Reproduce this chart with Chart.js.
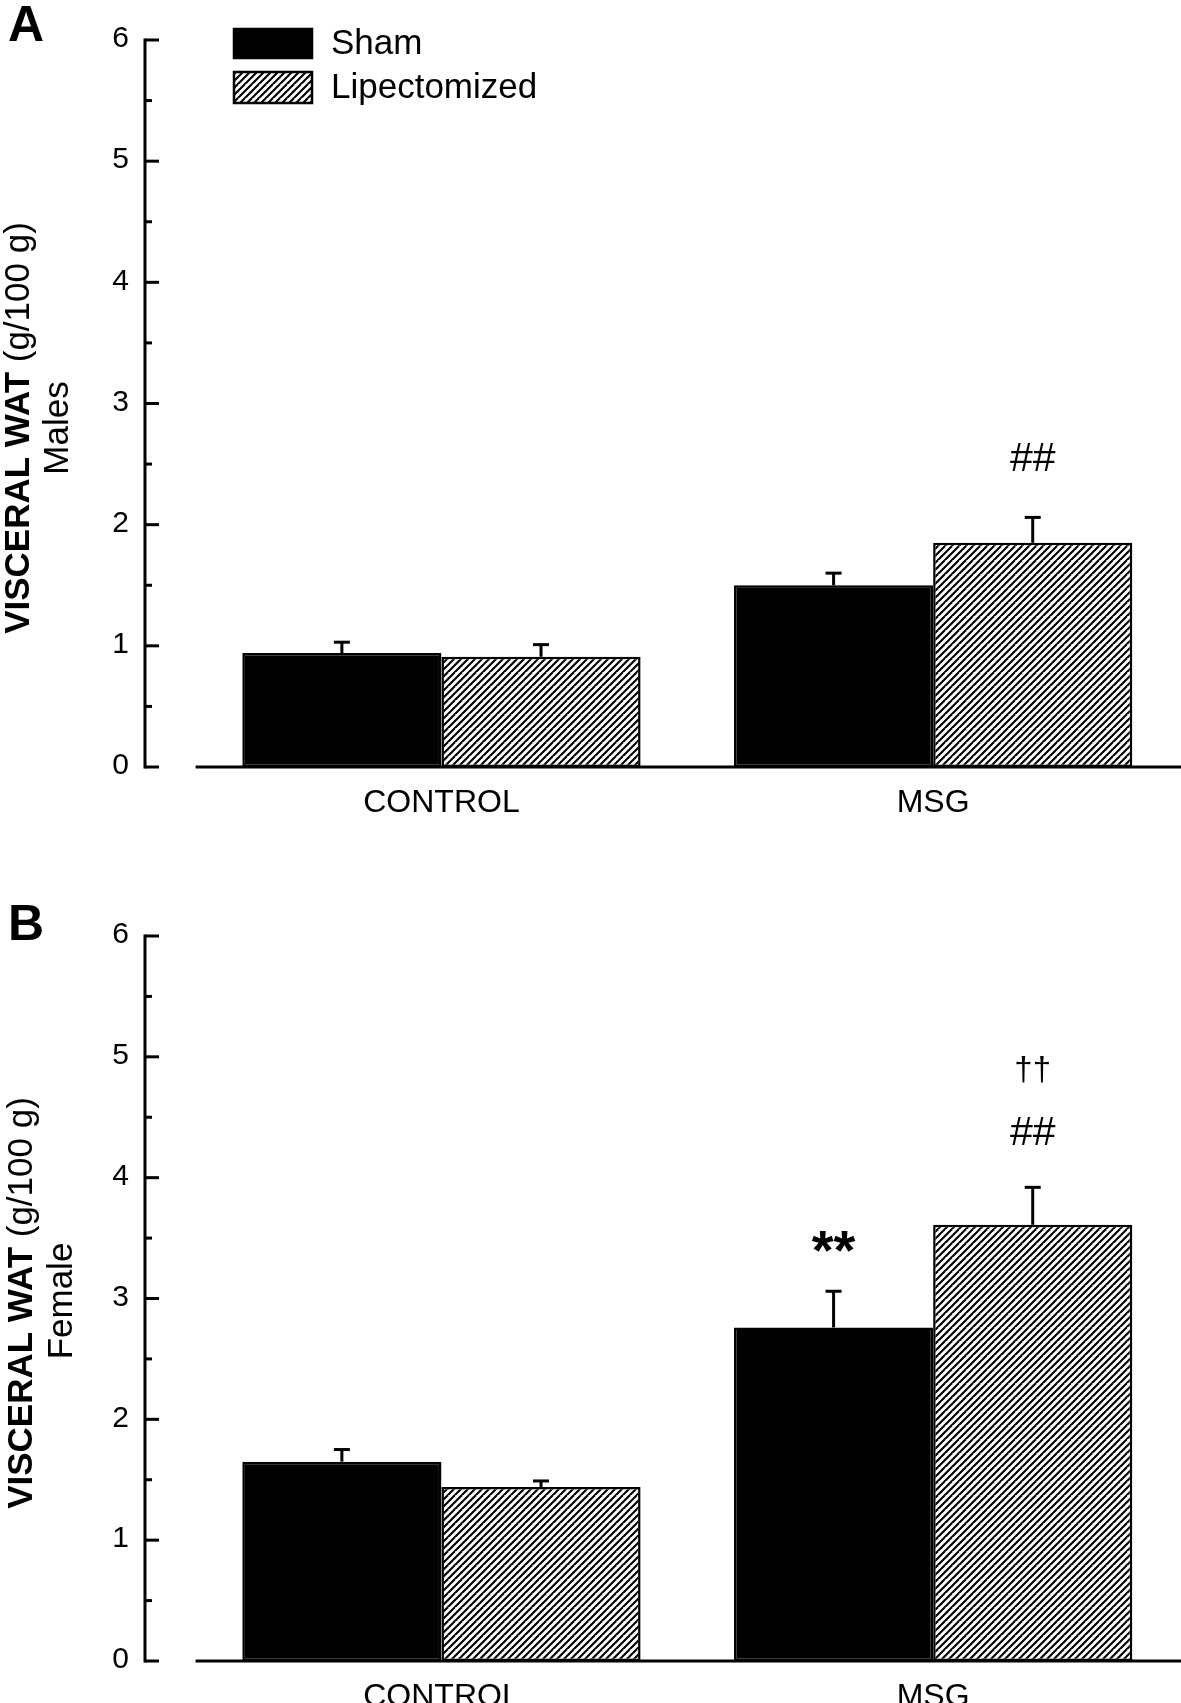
<!DOCTYPE html>
<html><head><meta charset="utf-8">
<script src="https://cdn.jsdelivr.net/npm/chart.js@4.4.1/dist/chart.umd.min.js"></script>
<style>
html,body{margin:0;padding:0;background:#fff;}
#wrap{position:relative;width:1181px;height:1703px;overflow:hidden;background:#fff;}
.panel{position:absolute;left:0;width:1181px;}
canvas{display:block;}
</style></head><body>
<div id="wrap">
<div class="panel" style="top:0;height:851px"><canvas id="cA" width="1181" height="851"></canvas></div>
<div class="panel" style="top:851px;height:852px"><canvas id="cB" width="1181" height="852"></canvas></div>
</div>
<script>
// ---- data ----
const categories = ['CONTROL', 'MSG'];
const seriesNames = ['Sham', 'Lipectomized'];
const yTickLabels = ['0', '1', '2', '3', '4', '5', '6'];
const maleSham = [0.94, 1.50];
const maleShamErr = [0.09, 0.10];
const maleLipo = [0.91, 1.85];
const maleLipoErr = [0.10, 0.21];
const femaleSham = [1.65, 2.76];
const femaleShamErr = [0.10, 0.30];
const femaleLipo = [1.44, 3.61];
const femaleLipoErr = [0.05, 0.31];
const maleMarks = [{ cat: 1, ds: 1, text: '##', at: 2.54 }];
const femaleMarks = [
  { cat: 1, ds: 0, text: '**', at: 3.37 },
  { cat: 1, ds: 1, text: '##', at: 4.36 },
  { cat: 1, ds: 1, text: '\u2020\u2020', at: 4.88 }
];

const FONT = '"Liberation Sans", Arial, Helvetica, sans-serif';

function makeHatch() {
  const s = 14, c = document.createElement('canvas');
  c.width = s; c.height = s;
  const g = c.getContext('2d');
  g.fillStyle = '#fff'; g.fillRect(0, 0, s, s);
  g.strokeStyle = '#000'; g.lineWidth = 2.1;
  for (let k = -s; k <= 2 * s; k += 7) {
    g.beginPath(); g.moveTo(k - s, 2 * s); g.lineTo(k + s, 0); g.stroke();
  }
  return g.createPattern(c, 'repeat');
}

function drawMixed(ctx, parts, cx, cy) {
  let total = 0;
  const w = parts.map(p => { ctx.font = p.font; const m = ctx.measureText(p.text).width; total += m; return m; });
  let x = cx - total / 2;
  parts.forEach((p, i) => { ctx.font = p.font; ctx.fillText(p.text, x, cy); x += w[i]; });
}

function panelPlugin(cfg) {
  return {
    id: 'panel' + cfg.letter,
    afterDatasetsDraw(chart) {
      const ctx = chart.ctx, ys = chart.scales.y, area = chart.chartArea;
      const axisX = 145;
      ctx.save();
      ctx.strokeStyle = '#000'; ctx.fillStyle = '#000'; ctx.lineCap = 'butt';
      // error bars
      chart.data.datasets.forEach((ds, di) => {
        const meta = chart.getDatasetMeta(di);
        meta.data.forEach((bar, j) => {
          const top = ys.getPixelForValue(ds.data[j]);
          const e = ys.getPixelForValue(ds.data[j] + ds.errors[j]);
          ctx.lineWidth = 3;
          ctx.beginPath(); ctx.moveTo(bar.x, top); ctx.lineTo(bar.x, e); ctx.stroke();
          ctx.beginPath(); ctx.moveTo(bar.x - 8, e); ctx.lineTo(bar.x + 8, e); ctx.stroke();
        });
      });
      // x axis line
      const y0 = ys.getPixelForValue(0);
      ctx.lineWidth = 3;
      ctx.beginPath(); ctx.moveTo(area.left, y0); ctx.lineTo(area.right + 2, y0); ctx.stroke();
      // y axis line + ticks + tick labels
      const yTop = ys.getPixelForValue(ys.max);
      ctx.beginPath(); ctx.moveTo(axisX, yTop - 1.5); ctx.lineTo(axisX, y0 + 1.5); ctx.stroke();
      for (let v = ys.min; v <= ys.max; v += 0.5) {
        const py = ys.getPixelForValue(v);
        const major = Math.abs(v - Math.round(v)) < 1e-6;
        ctx.beginPath(); ctx.moveTo(axisX, py); ctx.lineTo(axisX + (major ? 14 : 7), py); ctx.stroke();
      }
      ctx.font = '30px ' + FONT; ctx.textAlign = 'right'; ctx.textBaseline = 'middle';
      yTickLabels.forEach((t, i) => {
        ctx.fillText(t, 129, ys.getPixelForValue(i) - 1);
      });
      // annotations
      cfg.marks.forEach(m => {
        const bar = chart.getDatasetMeta(m.ds).data[m.cat];
        const py = ys.getPixelForValue(m.at);
        if (m.text === '**') ctx.font = 'bold 56px ' + FONT;
        else if (m.text === '##') ctx.font = '41px ' + FONT;
        else ctx.font = '33px ' + FONT;
        ctx.textAlign = 'center'; ctx.textBaseline = 'middle';
        ctx.fillText(m.text, bar.x, py);
      });
      // panel letter
      ctx.textAlign = 'left'; ctx.textBaseline = 'alphabetic';
      ctx.font = 'bold 50px ' + FONT;
      ctx.fillText(cfg.letter, 8, cfg.letterBase);
      // y title
      ctx.save();
      ctx.textBaseline = 'middle'; ctx.textAlign = 'left';
      ctx.translate(cfg.titleX1, cfg.titleY);
      ctx.rotate(-Math.PI / 2);
      drawMixed(ctx, [{ text: 'VISCERAL WAT', font: 'bold 35px ' + FONT }, { text: ' (g/100 g)', font: '35px ' + FONT }], 0, 0);
      ctx.restore();
      ctx.save();
      ctx.textBaseline = 'middle'; ctx.textAlign = 'center';
      ctx.translate(cfg.titleX2, cfg.titleY2);
      ctx.rotate(-Math.PI / 2);
      ctx.font = '35px ' + FONT;
      ctx.fillText(cfg.sub, 0, 0);
      ctx.restore();
      // legend
      if (cfg.legend) {
        const dsets = chart.data.datasets;
        const boxes = [{ y: 29, h: 29 }, { y: 72, h: 31 }];
        dsets.forEach((ds, i) => {
          const b = boxes[i];
          ctx.fillStyle = ds.backgroundColor;
          ctx.fillRect(234, b.y, 78, b.h);
          ctx.lineWidth = 2.5; ctx.strokeStyle = '#000';
          ctx.strokeRect(234, b.y, 78, b.h);
          ctx.fillStyle = '#000';
          ctx.font = '35px ' + FONT; ctx.textAlign = 'left'; ctx.textBaseline = 'middle';
          ctx.fillText(ds.label, 331, b.y + b.h / 2 + 1);
        });
      }
      ctx.restore();
    }
  };
}

function build(id, sham, shamErr, lipo, lipoErr, topPad, xH, cfg) {
  const hatch = makeHatch();
  return new Chart(document.getElementById(id), {
    type: 'bar',
    data: {
      labels: categories,
      datasets: [
        { label: seriesNames[0], data: sham, errors: shamErr, backgroundColor: '#000', borderColor: '#000', borderWidth: 2.5, borderSkipped: false },
        { label: seriesNames[1], data: lipo, errors: lipoErr, backgroundColor: hatch, borderColor: '#000', borderWidth: 2.5, borderSkipped: false }
      ]
    },
    options: {
      responsive: false, animation: false, devicePixelRatio: 1,
      layout: { autoPadding: false, padding: { top: topPad, right: 2, left: 195.6, bottom: 0 } },
      categoryPercentage: 0.81, barPercentage: 1.0,
      plugins: { legend: { display: false }, tooltip: { enabled: false } },
      scales: {
        x: {
          offset: true,
          grid: { display: false, drawTicks: false }, border: { display: false },
          ticks: { color: '#000', font: { family: FONT, size: 32 }, padding: 17, maxRotation: 0 },
          afterFit(s) { s.height = xH; }
        },
        y: {
          display: false, min: 0, max: 6
        }
      }
    },
    plugins: [panelPlugin(cfg)]
  });
}

build('cA', maleSham, maleShamErr, maleLipo, maleLipoErr, 40, 84,
  { letter: 'A', letterBase: 41, marks: maleMarks, titleX1: 19, titleY: 428, titleX2: 58, titleY2: 428, sub: 'Males', legend: true });
build('cB', femaleSham, femaleShamErr, femaleLipo, femaleLipoErr, 85, 42,
  { letter: 'B', letterBase: 89, marks: femaleMarks, titleX1: 22, titleY: 452, titleX2: 62, titleY2: 450, sub: 'Female', legend: false });
</script>
</body></html>
